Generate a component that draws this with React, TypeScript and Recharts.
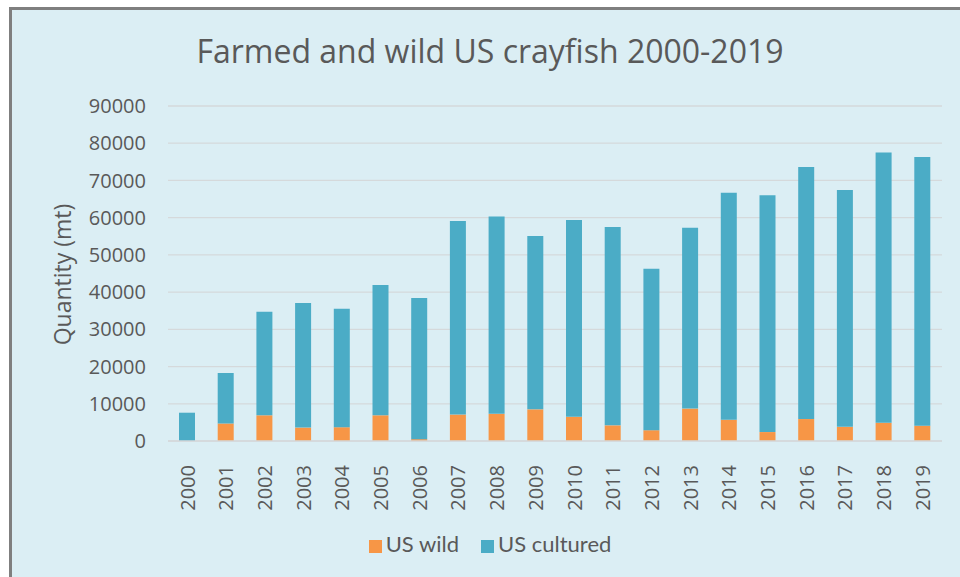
import React from "react";
import {
  BarChart, Bar, XAxis, YAxis, CartesianGrid, Legend,
} from "recharts";

// values (metric tonnes)
const YEARS = [
  "2000", "2001", "2002", "2003", "2004", "2005", "2006", "2007", "2008", "2009",
  "2010", "2011", "2012", "2013", "2014", "2015", "2016", "2017", "2018", "2019",
];
const US_WILD = [
  0, 4700, 6900, 3600, 3700, 6900, 500, 7100, 7300, 8500,
  6500, 4200, 2900, 8700, 5700, 2400, 5900, 3800, 4900, 4100,
];
const US_CULTURED = [
  7600, 13600, 27800, 33500, 31800, 35000, 37900, 52000, 53000, 46600,
  52900, 53300, 43400, 48600, 61000, 63600, 67700, 63600, 72600, 72200,
];
const Y_TICKS = [0, 10000, 20000, 30000, 40000, 50000, 60000, 70000, 80000, 90000];

const TEXT = "#595959";
const FONT = "'Open Sans', sans-serif";
const ORANGE = "#F79646";
const BLUE = "#4BACC6";

const data = YEARS.map((year, i) => ({
  year,
  wild: US_WILD[i],
  cultured: US_CULTURED[i],
}));

function YearTick({ x, y, payload }: any) {
  return (
    <g transform={`translate(${x},${y})`}>
      <text
        transform="rotate(-90)"
        x={-16}
        y={0}
        dy="0.36em"
        textAnchor="end"
        fill={TEXT}
        fontSize={20}
        fontFamily={FONT}
      >
        {payload.value}
      </text>
    </g>
  );
}

function QuantityLabel({ viewBox }: any) {
  const cx = viewBox.x + 21;
  const cy = viewBox.y + viewBox.height / 2 + 1;
  return (
    <text
      x={cx}
      y={cy}
      transform={`rotate(-90, ${cx}, ${cy})`}
      textAnchor="middle"
      dy="0.36em"
      fill={TEXT}
      fontSize={23}
      fontFamily={FONT}
    >
      Quantity (mt)
    </text>
  );
}

// keep the series order (wild first) instead of the default alphabetical sort
const legendOrder = (item: any) => (item.dataKey === "wild" ? 0 : 1);

export default function App() {
  return (
    <>
      <style>{`body{margin:0;overflow:hidden}`}</style>
      <div
        style={{
          position: "absolute",
          left: 9,
          top: 7,
          width: 948,
          height: 567,
          borderTop: "3px solid #7f7f7f",
          borderLeft: "3px solid #7f7f7f",
          background: "#DBEEF4",
        }}
      >
        <div
          style={{
            position: "absolute",
            left: 0,
            top: 19,
            width: 956,
            textAlign: "center",
            fontFamily: FONT,
            fontSize: 32,
            color: TEXT,
          }}
        >
          Farmed and wild US crayfish 2000-2019
        </div>
        <BarChart
          width={948}
          height={567}
          data={data}
          margin={{ top: 96, right: 18, bottom: 56, left: 30 }}
        >
          <CartesianGrid vertical={false} stroke="#D5D9DB" strokeWidth={1.3} />
          <XAxis
            dataKey="year"
            height={80}
            interval={0}
            tickLine={false}
            axisLine={{ stroke: "#D5D9DB", strokeWidth: 1.3 }}
            tick={<YearTick />}
          />
          <YAxis
            width={126}
            domain={[0, 90000]}
            ticks={Y_TICKS}
            interval={0}
            tickLine={false}
            axisLine={false}
            tickSize={0}
            tickMargin={22}
            tick={{ fill: TEXT, fontSize: 20, fontFamily: FONT }}
            label={<QuantityLabel />}
          />
          <Legend
            layout="horizontal"
            verticalAlign="middle"
            align="center"
            iconType="square"
            iconSize={13}
            itemSorter={legendOrder}
            wrapperStyle={{
              left: 9,
              top: 520,
              width: 948,
              fontFamily: "Lato, sans-serif",
              fontSize: 22,
            }}
            formatter={(value: string) => (
              <span style={{ color: TEXT, paddingRight: value === "US wild" ? 12 : 0 }}>{value}</span>
            )}
          />
          <Bar
            dataKey="wild"
            name="US wild"
            stackId="a"
            fill={ORANGE}
            barSize={16}
            isAnimationActive={false}
          />
          <Bar
            dataKey="cultured"
            name="US cultured"
            stackId="a"
            fill={BLUE}
            barSize={16}
            isAnimationActive={false}
          />
        </BarChart>
      </div>
    </>
  );
}
